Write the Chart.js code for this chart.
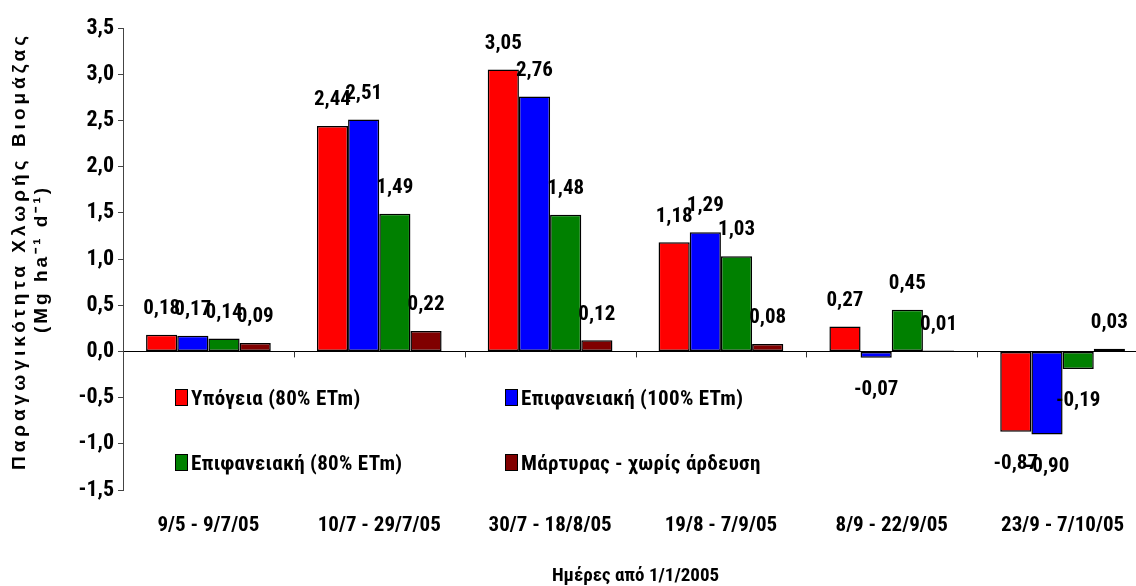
<!DOCTYPE html>
<html>
<head>
<meta charset="utf-8">
<script src="https://cdn.jsdelivr.net/npm/chart.js@4/dist/chart.umd.min.js"></script>
<style>
    html, body { margin: 0; padding: 0; background: #fff; overflow: hidden; }
    #wrap { position: relative; width: 1148px; height: 586px; }
    #legend {
        position: absolute; left: 175px; top: 385px;
        display: grid; grid-template-columns: 330px 300px; row-gap: 40px;
        font-family: 'Roboto Condensed', Roboto, sans-serif; font-stretch: condensed;
        font-weight: bold; font-size: 21px; letter-spacing: 0.3px; color: #000;
    }
    .legend-item { display: flex; align-items: center; height: 25px; }
    .legend-box { width: 11px; height: 15px; border: 1.5px solid #000; margin-right: 3px; }
</style>
</head>
<body>
<div id="wrap">
    <canvas id="biomassChart" width="1148" height="586"></canvas>
    <div id="legend"></div>
</div>
<script>
// Chart data
const categories = ['9/5 - 9/7/05', '10/7 - 29/7/05', '30/7 - 18/8/05', '19/8 - 7/9/05', '8/9 - 22/9/05', '23/9 - 7/10/05'];
const seriesNames = ['Υπόγεια (80% ETm)', 'Επιφανειακή (100% ETm)', 'Επιφανειακή (80% ETm)', 'Μάρτυρας - χωρίς άρδευση'];
const subsurface80 = [0.18, 2.44, 3.05, 1.18, 0.27, -0.87];
const surface100 = [0.17, 2.51, 2.76, 1.29, -0.07, -0.90];
const surface80 = [0.14, 1.49, 1.48, 1.03, 0.45, -0.19];
const control = [0.09, 0.22, 0.12, 0.08, 0.01, 0.03];
const seriesColors = ['#ff0000', '#0000ff', '#008000', '#800000'];
const yMin = -1.5, yMax = 3.5, yStep = 0.5;
const yTitle = ['Παραγωγικότητα Χλωρής Βιομάζας', '(Mg ha⁻¹ d⁻¹)'];

const FONT = "'Roboto Condensed', Roboto, sans-serif";

function fmt(v, digits) {
    return v.toFixed(digits).replace('.', ',');
}

// value labels above / below each bar
const valueLabels = {
    id: 'valueLabels',
    afterDatasetsDraw(chart) {
        const ctx = chart.ctx;
        ctx.save();
        ctx.font = 'bold 21px ' + FONT;
        ctx.fillStyle = '#000';
        ctx.textAlign = 'center';
        ctx.textBaseline = 'middle';
        chart.data.datasets.forEach((ds, i) => {
            chart.getDatasetMeta(i).data.forEach((bar, j) => {
                const v = ds.data[j];
                const y = v >= 0 ? bar.y - 26 : bar.y + 32;
                ctx.fillText(fmt(v, 2), bar.x, y);
            });
        });
        ctx.restore();
    }
};

// small tick marks between categories on the zero line
const zeroTicks = {
    id: 'zeroTicks',
    beforeDatasetsDraw(chart) {
        const ctx = chart.ctx;
        const x = chart.scales.x, y = chart.scales.y;
        const y0 = y.getPixelForValue(0);
        const half = (x.getPixelForValue(1) - x.getPixelForValue(0)) / 2;
        ctx.save();
        ctx.strokeStyle = '#333';
        ctx.lineWidth = 1;
        ctx.beginPath();
        for (let i = 1; i < categories.length; i++) {
            const px = Math.round(x.getPixelForValue(i) - half) + 0.5;
            ctx.moveTo(px, y0);
            ctx.lineTo(px, y0 + 6);
        }
        ctx.stroke();
        ctx.restore();
    }
};

// letter-spaced, rotated y-axis title
const yAxisTitle = {
    id: 'yAxisTitle',
    afterDraw(chart) {
        const ctx = chart.ctx;
        const y = chart.scales.y;
        const cy = (y.top + y.bottom) / 2;
        ctx.save();
        ctx.fillStyle = '#000';
        ctx.textAlign = 'center';
        ctx.textBaseline = 'middle';
        ctx.font = "bold 19px 'Liberation Sans', Arial, sans-serif";
        [[20, cy - 8, '4px'], [42, cy, '3px']].forEach(([cx, cyy, sp], i) => {
            ctx.save();
            ctx.letterSpacing = sp;
            ctx.translate(cx, cyy);
            ctx.rotate(-Math.PI / 2);
            ctx.fillText(yTitle[i], 0, 0);
            ctx.restore();
        });
        ctx.restore();
    }
};

const seriesData = [subsurface80, surface100, surface80, control];

new Chart(document.getElementById('biomassChart'), {
    type: 'bar',
    data: {
        labels: categories,
        datasets: seriesData.map((values, i) => ({
            label: seriesNames[i],
            data: values,
            backgroundColor: seriesColors[i],
            borderColor: '#000',
            borderWidth: 1.5,
            borderSkipped: false,
            categoryPercentage: 0.73,
            barPercentage: 1.0
        }))
    },
    options: {
        responsive: false,
        animation: false,
        layout: { padding: { top: 28, right: 0, bottom: 0, left: 0 } },
        plugins: {
            legend: { display: false },
            tooltip: { enabled: false }
        },
        scales: {
            x: {
                grid: { display: false, drawTicks: false },
                border: { display: false },
                ticks: {
                    color: '#000',
                    padding: 23,
                    font: { family: FONT, size: 21, weight: 'bold' }
                },
                title: {
                    display: true,
                    text: 'Ημέρες από 1/1/2005',
                    color: '#000',
                    padding: { top: 0, bottom: -2 },
                    font: { family: FONT, size: 19, weight: 'bold' }
                },
                afterFit(scale) { scale.height = 96; }
            },
            y: {
                min: yMin,
                max: yMax,
                ticks: {
                    stepSize: yStep,
                    color: '#000',
                    padding: 4,
                    font: { family: FONT, size: 22, weight: 'bold' },
                    callback: value => fmt(value, 1)
                },
                grid: {
                    color: ctx => (ctx.tick && ctx.tick.value === 0) ? '#000' : 'rgba(0,0,0,0)',
                    tickColor: '#444',
                    tickLength: 5,
                    lineWidth: 1
                },
                border: { display: true, color: '#444', width: 1 },
                afterFit(scale) { scale.width = 123; }
            }
        }
    },
    plugins: [zeroTicks, valueLabels, yAxisTitle]
});

// legend inside the plot, two columns
const legendEl = document.getElementById('legend');
seriesNames.forEach((name, i) => {
    const item = document.createElement('div');
    item.className = 'legend-item';
    item.innerHTML = `<span class="legend-box" style="background:${seriesColors[i]}"></span><span>${name}</span>`;
    legendEl.appendChild(item);
});
</script>
</body>
</html>
